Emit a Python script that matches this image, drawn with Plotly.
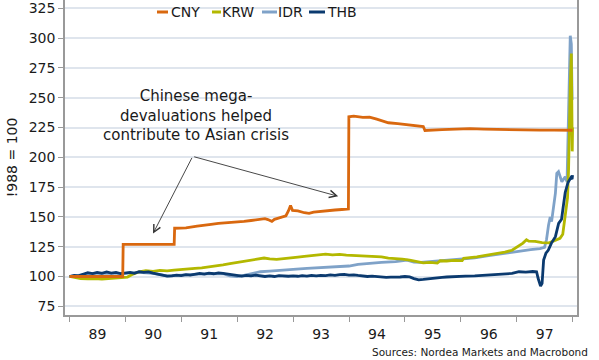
import plotly.graph_objects as go

# ---------------- data ----------------
cny_dates = ["1989-01-02","1989-12-15","1989-12-18","1990-11-16","1990-11-19","1991-02-01","1991-04-15",
             "1991-06-01","1991-07-15","1991-09-01","1991-11-01","1992-01-01","1992-02-15","1992-04-01",
             "1992-05-15","1992-07-01","1992-07-20","1992-08-15","1992-09-01","1992-10-15","1992-11-15",
             "1992-12-01","1992-12-15","1992-12-28","1993-02-01","1993-03-15","1993-04-15","1993-05-15",
             "1993-07-01","1993-08-15","1993-10-01","1993-11-15","1993-12-28","1993-12-31","1994-02-01",
             "1994-04-01","1994-05-15","1994-07-01","1994-08-15","1994-09-15","1994-11-15","1995-01-01",
             "1995-02-15","1995-04-01","1995-05-01","1995-05-12","1995-06-15","1995-09-01","1995-12-01",
             "1996-03-01","1996-06-01","1996-09-01","1996-12-01","1997-03-01","1997-06-01","1997-09-01",
             "1997-12-31"]
cny_values = [100,100,127,127,140.5,140.8,142.3,
              142.8,143.8,144.5,145.0,145.5,146.2,147.0,
              147.5,148.5,147.8,146.3,148.0,149.5,151.0,
              155.0,159.5,155.5,155.0,153.5,153.0,154.0,
              154.8,155.2,155.8,156.2,156.6,234.0,234.5,
              233.5,233.8,232.0,230.0,229.0,228.3,227.5,
              226.5,226.0,225.8,222.5,222.8,223.2,223.6,
              224.0,223.6,223.3,223.2,223.0,222.9,222.8,
              222.7]

krw_dates = ["1989-01-02","1989-02-01","1989-03-15","1989-05-01","1989-06-15","1989-08-01","1989-09-15",
             "1989-11-01","1989-12-15","1990-01-15","1990-02-20","1990-04-01","1990-05-15","1990-07-01",
             "1990-08-15","1990-10-01","1990-11-15","1991-01-01","1991-02-15","1991-04-01","1991-05-15",
             "1991-07-01","1991-08-15","1991-10-01","1991-11-15","1992-01-01","1992-02-15","1992-04-01",
             "1992-05-15","1992-06-25","1992-08-01","1992-09-15","1992-11-01","1992-12-15","1993-02-01",
             "1993-03-15","1993-05-01","1993-06-15","1993-08-01","1993-09-15","1993-11-01","1993-12-15",
             "1994-02-01","1994-03-15","1994-05-01","1994-06-15","1994-08-01","1994-09-15","1994-11-01",
             "1994-12-15","1995-02-01","1995-03-15","1995-05-01","1995-06-15","1995-08-01","1995-08-20",
             "1995-10-01","1995-11-15","1996-01-10","1996-01-20","1996-03-01","1996-04-15","1996-06-01",
             "1996-07-15","1996-09-01","1996-10-15","1996-12-01","1997-01-15","1997-02-10","1997-03-05",
             "1997-03-20","1997-05-01","1997-06-15","1997-08-01","1997-09-01","1997-10-10","1997-10-28",
             "1997-11-12","1997-11-28","1997-12-05","1997-12-10","1997-12-16","1997-12-23","1997-12-26",
             "1997-12-29","1997-12-31"]
krw_values = [100,99.0,98.2,98.0,98.3,97.9,98.4,
              98.6,98.8,99.5,102.0,104.0,104.8,104.3,
              105.2,104.8,105.3,105.6,106.0,106.8,107.3,
              108.0,108.8,109.8,110.8,111.8,112.8,113.8,
              114.6,115.5,114.7,114.4,115.0,115.8,116.3,
              116.8,117.4,117.8,118.8,118.2,118.5,118.0,
              117.8,117.3,117.5,116.8,116.5,115.5,115.2,
              114.5,113.8,112.5,111.5,111.8,111.2,113.2,
              113.0,113.5,113.4,115.3,115.6,116.4,117.6,
              118.5,119.4,120.5,122.0,125.5,128.0,130.8,
              129.6,129.5,128.5,128.2,129.8,132.0,135.5,
              150.0,166.0,190.0,230.0,260.0,287.0,240.0,
              205.0,225.0]

idr_dates = ["1989-01-02","1989-04-01","1989-07-01","1989-10-01","1990-01-01","1990-04-01","1990-07-01",
             "1990-10-01","1991-01-01","1991-04-01","1991-07-01","1991-10-01","1991-11-15","1992-01-01",
             "1992-02-15","1992-04-01","1992-06-01","1992-08-01","1992-10-01","1993-01-01","1993-04-01",
             "1993-07-01","1993-10-01","1994-01-01","1994-03-01","1994-05-01","1994-08-01","1994-11-01",
             "1995-01-15","1995-03-01","1995-04-15","1995-07-01","1995-10-01","1996-01-01","1996-04-01",
             "1996-07-01","1996-10-01","1997-01-01","1997-04-01","1997-06-01","1997-07-01","1997-07-14",
             "1997-07-27","1997-08-07","1997-08-16","1997-08-28","1997-09-10","1997-09-19","1997-09-30",
             "1997-10-22","1997-11-13","1997-11-25","1997-12-01","1997-12-10","1997-12-16","1997-12-23",
             "1997-12-28"]
idr_values = [100,101.5,102.8,102.6,102.6,103.5,102.6,
              100.5,100.9,101.8,102.4,102.3,100.5,100.0,
              101.0,102.5,104.0,104.5,105.3,106.0,106.8,
              107.6,108.2,108.8,110.2,111.0,111.8,112.5,
              113.8,112.0,111.8,112.6,113.6,114.2,115.6,
              117.6,119.0,120.8,122.5,123.4,124.5,131.0,
              143.0,150.0,146.0,158.5,170.0,186.6,188.0,
              179.5,183.7,179.5,220.0,276.0,302.0,295.0,
              248.0]

thb_dates = ["1989-01-02","1989-02-01","1989-03-01","1989-04-01","1989-05-01","1989-06-01","1989-07-01",
             "1989-08-01","1989-09-01","1989-10-01","1989-11-01","1989-12-01","1990-01-01","1990-02-01",
             "1990-03-01","1990-04-01","1990-05-01","1990-06-01","1990-07-01","1990-08-01","1990-09-01",
             "1990-10-01","1990-11-01","1990-12-01","1991-01-01","1991-02-01","1991-03-01","1991-04-01",
             "1991-05-01","1991-06-01","1991-07-01","1991-08-01","1991-09-01","1991-10-01","1991-11-01",
             "1991-12-01","1992-01-01","1992-02-01","1992-03-01","1992-04-01","1992-05-01","1992-06-01",
             "1992-07-01","1992-08-01","1992-09-01","1992-10-01","1992-11-01","1992-12-01","1993-01-01",
             "1993-02-01","1993-03-01","1993-04-01","1993-05-01","1993-06-01","1993-07-01","1993-08-01",
             "1993-09-01","1993-10-01","1993-11-01","1993-12-01","1994-01-01","1994-02-01","1994-03-01",
             "1994-04-01","1994-05-01","1994-06-01","1994-07-01","1994-08-01","1994-09-01","1994-10-01",
             "1994-11-01","1994-12-01","1995-01-01","1995-02-01","1995-03-01","1995-04-01","1995-05-01",
             "1995-06-01","1995-07-01","1995-08-01","1995-09-01","1995-10-01","1995-11-01","1995-12-01",
             "1996-02-01","1996-04-01","1996-06-01","1996-08-01","1996-10-01","1996-12-01","1997-01-15",
             "1997-03-01","1997-04-15","1997-05-10","1997-05-20","1997-06-05","1997-06-15","1997-06-25",
             "1997-07-10","1997-07-25","1997-08-15","1997-09-10","1997-10-01","1997-10-20","1997-11-01",
             "1997-11-13","1997-12-01","1997-12-20","1997-12-28","1997-12-31"]
thb_values = [100,101.0,100.5,102.0,103.2,102.4,103.5,
              102.6,103.8,102.8,103.4,102.5,102.8,103.5,
              102.6,104.0,103.4,103.9,102.8,101.8,100.8,
              100.3,100.6,101.2,100.8,101.5,101.2,102.0,
              102.6,102.0,102.8,102.3,103.0,102.7,102.2,
              101.5,100.8,100.4,101.0,100.6,101.2,100.8,
              100.0,100.5,100.0,100.8,100.3,100.2,100.5,
              100.2,100.7,100.4,100.9,100.6,101.0,100.8,
              101.3,101.0,101.6,101.8,101.2,101.4,100.9,
              100.4,100.0,100.3,99.9,99.6,99.3,99.5,
              99.4,99.6,100.0,99.6,98.2,97.2,97.5,
              97.8,98.2,98.8,99.3,99.6,99.9,100.0,
              100.3,100.6,101.0,101.3,101.8,102.6,104.0,
              103.6,104.2,104.0,98.5,91.9,94.3,113.8,
              119.5,122.0,128.0,133.4,144.6,148.0,159.4,
              170.5,178.9,183.0,181.8,185.0]

series_names = ["CNY", "KRW", "IDR", "THB"]
y_ticks = [75, 100, 125, 150, 175, 200, 225, 250, 275, 300, 325]

# ---------------- styling ----------------
colors = {"CNY": "#d9680f", "KRW": "#b3b800", "IDR": "#7fa2c8", "THB": "#0b3a6f"}
FONT = "DejaVu Sans, Verdana, sans-serif"

data = {"CNY": (cny_dates, cny_values), "KRW": (krw_dates, krw_values),
        "IDR": (idr_dates, idr_values), "THB": (thb_dates, thb_values)}

fig = go.Figure()
for name in ["IDR", "KRW", "THB", "CNY"]:
    d, v = data[name]
    fig.add_trace(go.Scatter(x=d, y=v, mode="lines", name=name,
                             line=dict(color=colors[name], width=2.8), showlegend=False))

W, H = 599, 360
L, R, T, B = 65, 22, 0, 45
pw, ph = W - L - R, H - T - B

def px_x(p):
    return (p - L) / pw

def px_y(p):
    return 1 - (p - T) / ph

fig.update_layout(
    width=W, height=H,
    margin=dict(l=L, r=R, t=T, b=B),
    paper_bgcolor="white", plot_bgcolor="white",
    font=dict(family=FONT, size=14, color="#1a1a1a"),
    xaxis=dict(
        range=["1988-12-03", "1998-01-29"],
        tick0="1989-01-01", dtick="M12", tickformat="%y", ticklabelmode="period",
        ticks="outside", ticklen=5, tickcolor="#999999", tickwidth=1.3,
        showline=True, linecolor="#999999", linewidth=1.5,
        showgrid=False, zeroline=False,
        tickfont=dict(size=14),
    ),
    yaxis=dict(
        range=[67.7, 332],
        tickvals=y_ticks,
        ticks="outside", ticklen=5, tickcolor="#999999", tickwidth=1.3,
        showline=True, linecolor="#999999", linewidth=1.5, mirror=True,
        showgrid=True, gridcolor="#dfe5ed", gridwidth=1.5,
        zeroline=False,
        tickfont=dict(size=14),
        title=dict(text="!988 = 100", font=dict(size=14), standoff=8),
    ),
)

# legend (manual, compact)
leg = [("CNY", 157, 168, 169), ("KRW", 212, 221, 220), ("IDR", 262, 277, 276), ("THB", 309, 325, 325)]
ly = 12
fig.add_shape(type="rect", xref="paper", yref="paper",
              x0=px_x(152), x1=px_x(362), y0=px_y(21), y1=px_y(2),
              fillcolor="white", line=dict(width=0), layer="between")
for name, x0, x1, tx in leg:
    fig.add_shape(type="line", xref="paper", yref="paper",
                  x0=px_x(x0), x1=px_x(x1), y0=px_y(ly), y1=px_y(ly),
                  line=dict(color=colors[name], width=3))
    fig.add_annotation(xref="paper", yref="paper", x=px_x(tx), y=px_y(ly),
                       xanchor="left", yanchor="middle", text=name, showarrow=False,
                       font=dict(size=14, color="#1a1a1a"))

# text annotation
fig.add_annotation(xref="paper", yref="paper", x=px_x(196), y=px_y(115.5),
                   xanchor="center", yanchor="middle", showarrow=False,
                   text="Chinese mega-<br>devaluations helped<br>contribute to Asian crisis",
                   font=dict(size=15, color="#1a1a1a"))

# arrows
arrow_tail = ("1991-03-17", 200.8)
arrow_heads = [("1990-07-01", 136.0), ("1993-10-22", 167.3)]
for hx, hy in arrow_heads:
    fig.add_annotation(x=hx, y=hy, ax=arrow_tail[0], ay=arrow_tail[1],
                       xref="x", yref="y", axref="x", ayref="y",
                       text="", showarrow=True, arrowhead=5, arrowsize=1.6,
                       arrowwidth=0.9, arrowcolor="#333333")

# source
fig.add_annotation(xref="paper", yref="paper", x=px_x(590), y=px_y(352),
                   xanchor="right", yanchor="middle", showarrow=False,
                   text="Sources: Nordea Markets and Macrobond",
                   font=dict(size=10.5, color="#1a1a1a"))

fig.write_html("out.html", config={"displayModeBar": False},
               post_script="document.body.style.margin='0';document.body.style.overflow='hidden';")
